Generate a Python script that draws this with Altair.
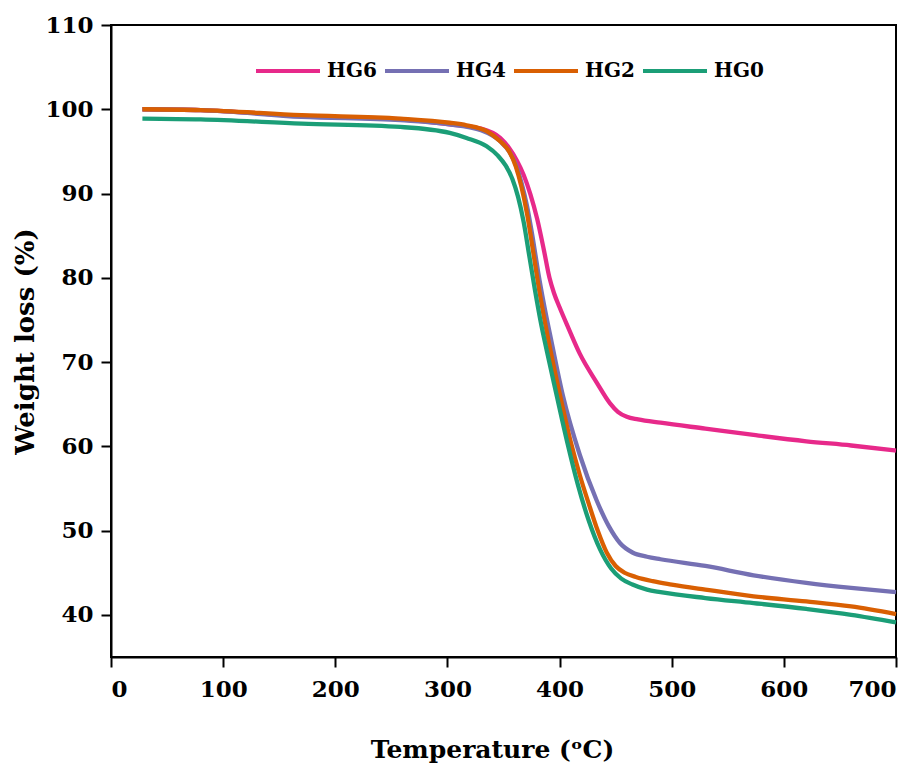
import altair as alt
import pandas as pd

series_names = ["HG6", "HG4", "HG2", "HG0"]
colors = ["#E7298A", "#7570B3", "#D95F02", "#1B9E77"]

hg6_t = [28, 80, 170, 258, 302, 330, 347, 355, 362, 368, 374, 380, 386, 391, 395, 400, 408, 418, 433, 445, 452, 460, 470, 490, 530, 573, 620, 660, 700]
hg6_w = [100.0, 99.9, 99.2, 98.8, 98.2, 97.7, 96.6, 95.4, 93.9, 92.2, 89.9, 87.0, 83.3, 80.0, 78.2, 76.5, 74.0, 71.0, 67.6, 65.1, 64.1, 63.5, 63.2, 62.8, 62.1, 61.35, 60.6, 60.1, 59.5]

hg4_t = [28, 80, 170, 258, 302, 330, 347, 355, 361, 366, 371, 376, 381, 386, 393, 403, 418, 433, 444, 454, 465, 478, 490, 530, 573, 620, 660, 700]
hg4_w = [100.0, 99.9, 99.1, 98.7, 98.2, 97.5, 96.2, 95.0, 93.4, 91.3, 88.5, 84.8, 80.6, 76.9, 72.3, 66.0, 59.0, 53.6, 50.5, 48.5, 47.4, 46.9, 46.6, 45.8, 44.7, 43.8, 43.2, 42.7]

hg2_t = [28, 80, 170, 258, 302, 317, 335, 347, 355, 361, 366, 371, 376, 381, 386, 392, 400, 410, 418, 426, 434, 442, 450, 458, 468, 483, 500, 530, 573, 620, 660, 700]
hg2_w = [100.0, 99.9, 99.3, 98.9, 98.4, 98.1, 97.4, 96.2, 95.0, 93.2, 90.8, 87.6, 83.5, 79.2, 75.4, 71.3, 66.3, 60.5, 56.6, 53.2, 50.0, 47.4, 45.8, 45.0, 44.5, 44.0, 43.6, 43.0, 42.2, 41.6, 41.0, 40.1]

hg0_t = [28, 80, 170, 258, 302, 317, 335, 345, 352, 358, 363, 368, 373, 378, 383, 389, 397, 407, 416, 426, 436, 446, 455, 465, 478, 490, 530, 573, 620, 660, 700]
hg0_w = [98.9, 98.8, 98.3, 97.9, 97.2, 96.6, 95.6, 94.5, 93.3, 91.7, 89.6, 86.6, 82.6, 78.6, 74.9, 71.1, 66.3, 60.4, 55.6, 51.2, 47.8, 45.5, 44.3, 43.6, 43.0, 42.7, 42.0, 41.4, 40.7, 40.0, 39.1]

x_ticks = [0, 100, 200, 300, 400, 500, 600, 700]
y_ticks = [40, 50, 60, 70, 80, 90, 100, 110]

rows = []
for name, ts, ws in [("HG6", hg6_t, hg6_w), ("HG4", hg4_t, hg4_w), ("HG2", hg2_t, hg2_w), ("HG0", hg0_t, hg0_w)]:
    for i, (t, w) in enumerate(zip(ts, ws)):
        rows.append({"series": name, "T": t, "W": w, "ord": i})
df = pd.DataFrame(rows)

FONT = "DejaVu Serif"

chart = alt.Chart(df).mark_line(strokeWidth=4.3, interpolate="monotone").encode(
    x=alt.X("T:Q", scale=alt.Scale(domain=[0, 700], nice=False, zero=False),
            axis=alt.Axis(title="Temperature (ᵒC)", values=x_ticks, grid=False,
                          labelPadding=11, titlePadding=36, titleFontSize=25,
                          titleX=381)),
    y=alt.Y("W:Q", scale=alt.Scale(domain=[35, 110], nice=False, zero=False),
            axis=alt.Axis(title="Weight loss (%)", values=y_ticks, grid=False,
                          labelPadding=8, titlePadding=6, titleFontSize=26)),
    color=alt.Color("series:N", scale=alt.Scale(domain=series_names, range=colors),
                    legend=alt.Legend(title=None, orient="none", direction="horizontal",
                                      legendX=143, legendY=12, symbolType="stroke",
                                      symbolSize=4096, symbolStrokeWidth=4,
                                      labelOffset=5, columnPadding=0, padding=0,
                                      labelFont=FONT, labelFontSize=20,
                                      labelFontWeight="bold", labelColor="black")),
    detail="series:N",
    order="ord:Q",
).properties(
    width=785, height=632,
    autosize=alt.AutoSizeParams(type="none"),
    padding={"left": 103, "top": 17, "right": 17, "bottom": 116},
).configure_view(
    stroke="black", strokeWidth=2
).configure_axis(
    domainColor="black", domainWidth=2, tickColor="black", tickWidth=2, tickSize=10,
    labelFont=FONT, labelFontSize=23, labelFontWeight="bold", labelColor="black",
    titleFont=FONT, titleFontWeight="bold", titleColor="black",
)

chart.save("out.html", embed_options={"renderer": "svg", "actions": False})
